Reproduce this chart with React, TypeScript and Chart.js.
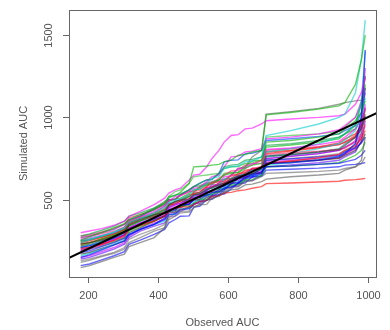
import React, { useEffect, useRef } from "react";
import { Chart, registerables } from "chart.js";

Chart.register(...registerables);

// Observed AUC quantiles (x positions shared by every simulated line)
const observedAUC = [180, 205, 240, 275, 305, 318, 350, 390, 420,
  432, 450, 465, 490, 503, 520, 540, 555, 575, 590, 610, 630, 650, 670, 697,
  710, 780, 860, 918, 935, 965, 982, 993];

// Simulated AUC quantiles, one array per simulation
const sim01 = [88, 100, 125, 150, 170, 215, 240, 270, 330, 420, 425, 440, 455, 458, 470, 500, 505, 530, 545, 560, 565, 590, 595, 610, 625, 640, 650, 660, 680, 700, 740, 880];
const sim02 = [205, 212, 230, 255, 285, 320, 345, 370, 400, 430, 450, 455, 458, 470, 490, 495, 520, 525, 540, 545, 555, 560, 570, 580, 598, 602, 608, 612, 618, 622, 626, 630];
const sim03 = [255, 275, 300, 330, 355, 380, 410, 440, 480, 520, 525, 545, 600, 700, 702, 705, 710, 715, 730, 740, 770, 775, 790, 800, 1015, 1030, 1050, 1070, 1090, 1200, 1350, 1500];
const sim04 = [240, 255, 280, 305, 330, 360, 385, 420, 450, 480, 500, 505, 530, 560, 565, 600, 630, 640, 690, 700, 705, 730, 735, 760, 890, 920, 960, 1000, 1020, 1150, 1350, 1590];
const sim05 = [300, 310, 325, 345, 370, 400, 430, 470, 510, 540, 560, 570, 620, 650, 655, 700, 750, 800, 850, 890, 895, 930, 935, 960, 980, 990, 1000, 1010, 1020, 1080, 1150, 1240];
const sim06 = [150, 165, 195, 225, 250, 285, 320, 350, 380, 410, 415, 440, 445, 470, 490, 495, 525, 530, 560, 600, 605, 630, 635, 660, 720, 725, 740, 760, 780, 840, 1000, 1410];
const sim07 = [232, 240, 255, 275, 300, 350, 380, 410, 420, 470, 490, 500, 505, 530, 535, 560, 575, 590, 600, 625, 645, 650, 660, 690, 765, 775, 790, 805, 830, 880, 930, 1010];
const sim08 = [270, 280, 295, 310, 335, 370, 395, 420, 445, 475, 480, 500, 505, 550, 555, 580, 600, 610, 612, 645, 650, 670, 690, 700, 775, 785, 795, 805, 815, 850, 900, 960];
const sim09 = [220, 235, 260, 285, 310, 340, 370, 410, 440, 465, 490, 495, 520, 545, 580, 590, 600, 620, 650, 660, 665, 690, 710, 720, 850, 860, 880, 900, 930, 980, 1030, 1100];
const sim10 = [180, 190, 215, 240, 265, 290, 320, 350, 390, 430, 435, 470, 472, 500, 520, 525, 545, 550, 570, 575, 600, 640, 645, 670, 700, 705, 715, 722, 730, 745, 770, 800];
const sim11 = [250, 262, 280, 300, 330, 370, 390, 410, 435, 480, 482, 500, 520, 525, 540, 565, 570, 590, 625, 628, 650, 655, 680, 682, 765, 780, 810, 840, 860, 920, 1000, 1120];
const sim12 = [190, 200, 225, 255, 280, 330, 360, 390, 420, 450, 470, 480, 482, 525, 530, 570, 575, 600, 640, 645, 690, 692, 720, 722, 805, 815, 835, 855, 880, 930, 990, 1060];
const sim13 = [120, 132, 155, 175, 200, 240, 270, 310, 330, 380, 400, 420, 425, 450, 470, 472, 510, 520, 545, 575, 578, 610, 615, 640, 660, 665, 672, 680, 690, 700, 720, 760];
const sim14 = [240, 250, 270, 290, 315, 355, 385, 410, 440, 475, 478, 500, 530, 532, 545, 575, 578, 600, 603, 630, 660, 662, 690, 692, 720, 735, 755, 775, 800, 830, 870, 920];
const sim15 = [280, 292, 315, 340, 370, 400, 420, 450, 480, 510, 530, 535, 560, 580, 600, 620, 625, 660, 700, 710, 715, 740, 745, 760, 830, 840, 860, 880, 900, 950, 1080, 1250];
const sim16 = [210, 220, 240, 265, 290, 320, 350, 380, 400, 440, 445, 470, 472, 510, 512, 550, 555, 580, 582, 615, 640, 650, 652, 690, 740, 748, 760, 770, 790, 815, 845, 880];
const sim17 = [200, 210, 235, 260, 285, 330, 360, 390, 420, 455, 470, 480, 505, 525, 528, 560, 590, 592, 600, 615, 618, 645, 690, 692, 750, 765, 780, 800, 820, 850, 950, 1180];
const sim18 = [160, 172, 200, 230, 255, 290, 320, 350, 370, 410, 412, 445, 448, 490, 495, 530, 532, 570, 572, 610, 612, 650, 652, 690, 790, 810, 840, 880, 900, 960, 1100, 1400];
const sim19 = [260, 268, 285, 300, 330, 370, 395, 430, 460, 490, 520, 525, 550, 570, 575, 610, 640, 650, 700, 760, 765, 790, 795, 810, 870, 880, 900, 925, 950, 1000, 1100, 1250];
const sim20 = [250, 258, 275, 295, 320, 370, 400, 450, 490, 500, 505, 530, 560, 580, 585, 600, 610, 620, 622, 650, 690, 700, 760, 800, 1020, 1035, 1055, 1080, 1090, 1100, 1105, 1110];
const sim21 = [230, 240, 260, 280, 305, 345, 375, 400, 430, 460, 480, 490, 492, 530, 535, 565, 570, 590, 592, 625, 640, 660, 680, 700, 780, 795, 815, 835, 850, 890, 960, 1050];
const sim22 = [190, 200, 220, 245, 270, 310, 340, 370, 400, 430, 432, 460, 465, 480, 500, 505, 540, 545, 565, 590, 592, 620, 622, 650, 700, 705, 715, 725, 740, 770, 800, 850];
const sim23 = [100, 110, 135, 160, 185, 230, 255, 290, 320, 360, 380, 400, 402, 455, 460, 500, 503, 530, 535, 565, 600, 602, 640, 642, 680, 685, 692, 700, 710, 715, 720, 725];
const sim24 = [170, 180, 205, 228, 250, 300, 330, 370, 400, 430, 450, 455, 480, 500, 502, 530, 532, 560, 590, 595, 630, 632, 660, 662, 720, 730, 740, 752, 770, 800, 850, 900];
const sim25 = [280, 288, 305, 325, 350, 390, 410, 440, 470, 500, 502, 525, 550, 552, 570, 600, 602, 630, 650, 675, 678, 710, 712, 740, 800, 810, 822, 835, 850, 880, 930, 990];
const sim26 = [210, 222, 245, 270, 300, 340, 370, 400, 420, 450, 470, 480, 500, 515, 518, 540, 560, 565, 567, 595, 600, 620, 648, 650, 710, 725, 745, 765, 790, 840, 920, 1050];
const sim27 = [150, 160, 185, 210, 240, 280, 320, 360, 380, 420, 425, 450, 480, 495, 497, 530, 532, 565, 567, 600, 630, 640, 642, 670, 730, 740, 750, 765, 780, 810, 900, 1080];
const sim28 = [230, 240, 262, 285, 320, 360, 385, 420, 460, 490, 505, 510, 540, 560, 562, 590, 592, 620, 660, 665, 667, 700, 735, 740, 820, 832, 850, 870, 900, 930, 1000, 1200];
const sim29 = [270, 280, 300, 320, 350, 380, 400, 440, 470, 500, 502, 530, 560, 580, 600, 620, 622, 660, 730, 740, 742, 780, 782, 800, 860, 870, 885, 900, 920, 950, 1030, 1150];
const sim30 = [130, 140, 160, 180, 210, 260, 290, 320, 350, 390, 420, 430, 432, 480, 482, 520, 525, 550, 552, 585, 588, 620, 655, 660, 740, 750, 765, 780, 800, 820, 900, 1060];
const sim31 = [250, 258, 275, 295, 325, 360, 385, 410, 440, 470, 472, 495, 520, 540, 542, 580, 605, 610, 612, 650, 652, 680, 682, 700, 790, 800, 820, 845, 870, 900, 950, 1020];
const sim32 = [210, 225, 250, 275, 305, 345, 370, 400, 430, 465, 490, 495, 497, 540, 545, 570, 572, 600, 625, 630, 632, 660, 685, 690, 760, 772, 790, 810, 840, 880, 940, 1000];
const sim33 = [140, 150, 175, 200, 230, 270, 310, 340, 360, 400, 402, 430, 455, 475, 478, 515, 518, 545, 575, 580, 582, 615, 617, 650, 700, 712, 725, 740, 760, 790, 860, 980];
const sim34 = [220, 228, 248, 268, 300, 330, 355, 385, 410, 440, 460, 470, 500, 520, 522, 555, 580, 585, 587, 620, 645, 650, 652, 680, 750, 762, 780, 800, 815, 860, 980, 1300];
const sim35 = [245, 255, 280, 300, 330, 370, 400, 445, 480, 520, 550, 560, 600, 640, 645, 650, 655, 660, 690, 700, 702, 720, 722, 740, 880, 890, 900, 915, 940, 1000, 1080, 1180];
const sim36 = [195, 205, 230, 250, 275, 315, 345, 375, 405, 440, 442, 470, 495, 510, 512, 545, 547, 570, 595, 600, 602, 630, 660, 665, 720, 730, 742, 755, 775, 820, 880, 950];

const simulations = [sim01, sim02, sim03, sim04, sim05, sim06, sim07, sim08, sim09, sim10, sim11, sim12,
  sim13, sim14, sim15, sim16, sim17, sim18, sim19, sim20, sim21, sim22, sim23, sim24,
  sim25, sim26, sim27, sim28, sim29, sim30, sim31, sim32, sim33, sim34, sim35, sim36];

const simColors = ["#555555", "#ff0000", "#00b000", "#00cccc", "#ff00ff", "#0000ff", "#333333", "#ff3070",
  "#00b000", "#0000ff", "#00cccc", "#ff00ff", "#666666", "#ff0000", "#00a040", "#0000ff",
  "#8000ff", "#00cccc", "#ff00ff", "#556655", "#ff0000", "#00b000", "#0000ff", "#222222",
  "#ff2060", "#00cccc", "#cc00ff", "#00b000", "#0040ff", "#777777", "#e00000", "#009080",
  "#6000ff", "#e000c0", "#30c030", "#ff1040"];

// Identity reference line end points (y = x)
const identityLine = [140, 1030];

const xTicks = [200, 400, 600, 800, 1000];
const yTicks = [500, 1000, 1500];
const xTitle = "Observed AUC";
const yTitle = "Simulated AUC";

function hexA(hex: string, a: number) {
  const r = parseInt(hex.slice(1, 3), 16);
  const g = parseInt(hex.slice(3, 5), 16);
  const b = parseInt(hex.slice(5, 7), 16);
  return `rgba(${r},${g},${b},${a})`;
}

const axisPlugin = {
  id: "rAxes",
  afterDraw(chart: any) {
    const { ctx, chartArea } = chart;
    const xs = chart.scales.x;
    const ys = chart.scales.y;
    ctx.save();
    ctx.strokeStyle = "#666666";
    ctx.lineWidth = 1;
    ctx.strokeRect(Math.round(chartArea.left) + 0.5, Math.round(chartArea.top) + 0.5,
      Math.round(chartArea.right - chartArea.left), Math.round(chartArea.bottom - chartArea.top));
    ctx.fillStyle = "#555555";
    ctx.font = "11px 'Liberation Sans', Arial, sans-serif";
    ctx.textAlign = "center";
    ctx.textBaseline = "middle";
    for (const t of xTicks) {
      const px = Math.round(xs.getPixelForValue(t)) + 0.5;
      ctx.beginPath();
      ctx.moveTo(px, chartArea.bottom);
      ctx.lineTo(px, chartArea.bottom + 6);
      ctx.stroke();
      ctx.fillText(String(t), px, chartArea.bottom + 19);
    }
    for (const t of yTicks) {
      const py = Math.round(ys.getPixelForValue(t)) + 0.5;
      ctx.beginPath();
      ctx.moveTo(chartArea.left, py);
      ctx.lineTo(chartArea.left - 6, py);
      ctx.stroke();
      ctx.save();
      ctx.translate(chartArea.left - 20, py);
      ctx.rotate(-Math.PI / 2);
      ctx.fillText(String(t), 0, 0);
      ctx.restore();
    }
    ctx.fillText(xTitle, (chartArea.left + chartArea.right) / 2, chartArea.bottom + 46);
    ctx.save();
    ctx.translate(24, (chartArea.top + chartArea.bottom) / 2);
    ctx.rotate(-Math.PI / 2);
    ctx.fillText(yTitle, 0, 0);
    ctx.restore();
    ctx.restore();
  },
};

export default function App() {
  const ref = useRef<HTMLCanvasElement | null>(null);
  useEffect(() => {
    if (!ref.current) return;
    const datasets: any[] = [
      {
        data: identityLine.map((v) => ({ x: v, y: v })),
        borderColor: "#000000",
        borderWidth: 2,
        pointRadius: 0,
        order: 0,
      },
      ...simulations.map((s, i) => ({
        data: s.map((v, j) => ({ x: observedAUC[j], y: v })),
        borderColor: hexA(simColors[i % simColors.length], 0.6),
        borderWidth: 1.4,
        pointRadius: 0,
        tension: 0,
        order: 1,
      })),
    ];
    const chart = new Chart(ref.current, {
      type: "line",
      data: { datasets },
      options: {
        animation: false,
        responsive: false,
        maintainAspectRatio: false,
        layout: { padding: { left: 69, right: 14, top: 10, bottom: 53 } },
        plugins: { legend: { display: false }, tooltip: { enabled: false } },
        scales: {
          x: { type: "linear", min: 146.6, max: 1023.8, display: false },
          y: { type: "linear", min: 31, max: 1652, display: false },
        },
      },
      plugins: [axisPlugin],
    });
    return () => chart.destroy();
  }, []);
  return (
    <div style={{ position: "fixed", left: 0, top: 0, width: 390, height: 330, background: "#fff" }}>
      <canvas ref={ref} width={390} height={330} style={{ width: 390, height: 330 }} />
    </div>
  );
}
